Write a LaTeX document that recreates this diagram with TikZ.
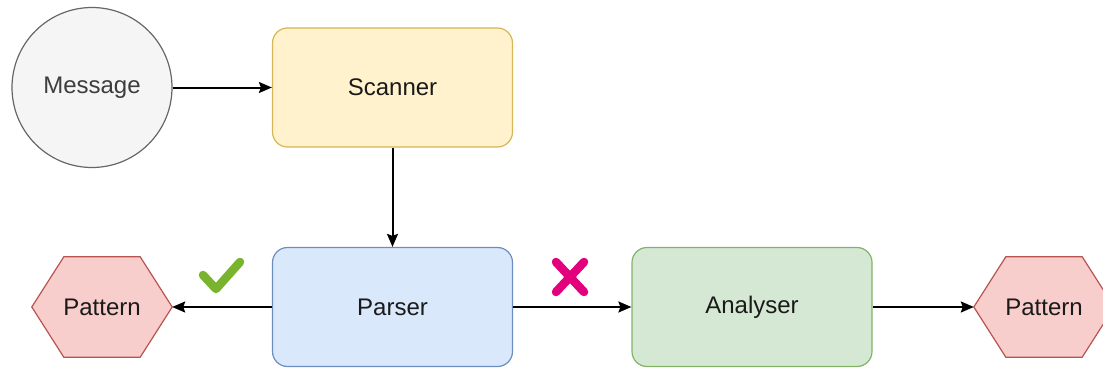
\documentclass[tikz,border=0pt]{standalone}
\usepackage{fontspec}
\setmainfont{Liberation Sans}
\usetikzlibrary{arrows.meta,backgrounds}

\definecolor{msgfill}{HTML}{F5F5F5}\definecolor{msgline}{HTML}{666666}
\definecolor{scanfill}{HTML}{FFF2CC}\definecolor{scanline}{HTML}{D6B656}
\definecolor{parsefill}{HTML}{DAE8FC}\definecolor{parseline}{HTML}{6C8EBF}
\definecolor{analfill}{HTML}{D5E8D4}\definecolor{analline}{HTML}{82B366}
\definecolor{patfill}{HTML}{F8CECC}\definecolor{patline}{HTML}{B85450}
\definecolor{okgreen}{HTML}{7AB32E}\definecolor{failpink}{HTML}{E3007D}
\definecolor{txt}{HTML}{1A1A1A}

\tikzset{
  every node/.style={font=\fontsize{24}{28}\selectfont, text=txt},
  stage/.style={rectangle, rounded corners=15pt, minimum width=240pt,
    minimum height=119pt, line width=1.2pt},
  hexslot/.style={rectangle, minimum width=140pt, minimum height=100pt},
  hexpath/.style={fill=patfill, draw=patline, line width=1.2pt},
  flow/.style={line width=2pt, -{Stealth[length=13pt,width=11pt,inset=2pt]}},
  tick/.style={line width=8.5pt, line cap=round, line join=round}
}

\begin{document}
\begin{tikzpicture}[x=1pt,y=-1pt]
  \clip (0,0) rectangle (1103,369);
  \useasboundingbox (0,0) rectangle (1103,369);

  % input message and the processing stages
  \node[circle, minimum size=160pt, fill=msgfill, draw=msgline, line width=1.2pt,
        text=msgline!60!black] (msg) at (92,87.5) {Message};
  \node[stage, fill=scanfill, draw=scanline] (scan) at (392.5,87.5) {Scanner};
  \node[stage, fill=parsefill, draw=parseline] (parse) at (392.5,307) {Parser};
  \node[stage, fill=analfill, draw=analline] (anal) at (752,307) {Analyser};

  % pattern outputs, hexagons drawn behind their labels
  \node[hexslot] (patA) at (102,307) {Pattern};
  \node[hexslot] (patB) at (1044,307) {Pattern};
  \begin{scope}[on background layer]
    \foreach \p in {patA,patB}{
      \draw[hexpath] (\p.west) -- ([xshift=32pt]\p.north west)
        -- ([xshift=-32pt]\p.north east) -- (\p.east)
        -- ([xshift=-32pt]\p.south east) -- ([xshift=32pt]\p.south west) -- cycle;
    }
  \end{scope}

  % connectors
  \draw[flow] (msg.east) -- (scan.west);
  \draw[flow] (scan.south) -- (parse.north);
  \draw[flow] (parse.west) -- (patA.east);
  \draw[flow] (parse.east) -- (anal.west);
  \draw[flow] (anal.east) -- (patB.west);

  % outcome marks on the parser branches
  \coordinate (okmark) at (221,276);
  \coordinate (failmark) at (570,277);
  \draw[tick, okgreen] ([shift={(-18,-1)}]okmark) -- ([shift={(-5,13)}]okmark)
    -- ([shift={(19,-14)}]okmark);
  \draw[tick, failpink] ([shift={(-14,-15)}]failmark) -- ([shift={(14,15)}]failmark);
  \draw[tick, failpink] ([shift={(14,-15)}]failmark) -- ([shift={(-14,15)}]failmark);
\end{tikzpicture}
\end{document}
